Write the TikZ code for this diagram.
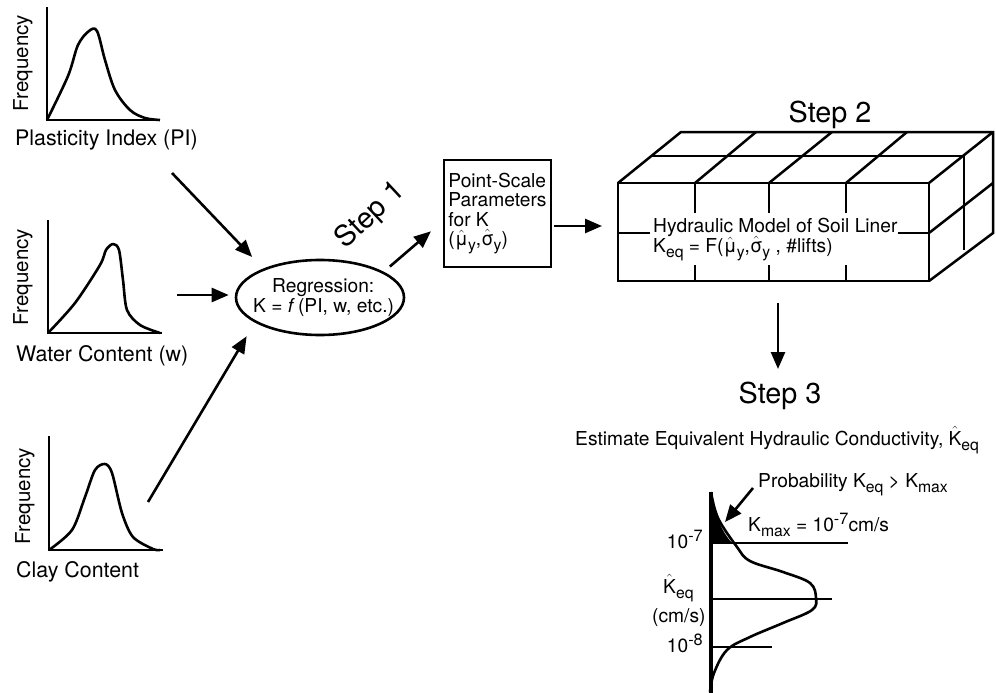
\documentclass[tikz,border=0pt]{standalone}
\usepackage{amsmath}
\usepackage{fix-cm}
\usepackage{fontspec}
\setmainfont{TeX Gyre Heros}
\usetikzlibrary{arrows.meta,shapes.geometric}
\newcommand{\hatsym}[1]{$\hat{\text{#1}}$}
\newcommand{\subsym}[1]{\raisebox{-5pt}{\scalebox{.82}{#1}}}
\newcommand{\supsym}[1]{\raisebox{7pt}{\scalebox{.85}{#1}}}
\tikzset{
    axisline/.style={line width=2.9pt},
    curveline/.style={line width=2.6pt, line join=round},
    cubeline/.style={line width=2.5pt},
    flowarrow/.style={line width=2.6pt, -{Stealth[inset=0pt,length=17pt,width=14pt]}},
    plaintxt/.style={anchor=base west, inner sep=0pt, font=\fontsize{19.2}{19.2}\selectfont},
    plotlabel/.style={anchor=base west, inner sep=0pt, font=\fontsize{21.4}{21.4}\selectfont},
    freqlabel/.style={anchor=base, rotate=90, inner sep=0pt, font=\fontsize{20.5}{20.5}\selectfont},
    steplabel/.style={anchor=base, inner sep=0pt, font=\fontsize{28.8}{28.8}\selectfont},
}
\begin{document}
\begin{tikzpicture}[x=1pt,y=-1pt]
    \useasboundingbox (0,0) rectangle (996,693);
    %plasticity plot
    \draw[axisline] (47,7) -- (47,120) -- (160,120);
    \draw[curveline] plot[smooth, tension=.55] coordinates {(47,120) (68,76) (78,45) (89,31) (97,31) (105,60) (115,90) (130,110) (145,118) (160,120)};
    \node[freqlabel] (freqpi) at (28,63) {Frequency};
    \node[plotlabel] (labelpi) at (15,145) {Plasticity Index (PI)};
    %water content plot
    \draw[axisline] (48,220) -- (48,333) -- (162,333);
    \draw[curveline] plot[smooth, tension=.5] coordinates {(48,333) (75,303) (100,265) (106,250) (113,244) (119,250) (123,280) (127,310) (140,325) (160,333)};
    \node[freqlabel] (freqw) at (28,277) {Frequency};
    \node[plotlabel] (labelw) at (16,361) {Water Content (w)};
    %clay plot
    \draw[axisline] (49,436) -- (49,550) -- (163,550);
    \draw[curveline] plot[smooth, tension=.5] coordinates {(49,550) (72,530) (85,497) (95,470) (105,464) (112,473) (122,513) (133,537) (153,549) (160,550)};
    \node[freqlabel] (freqc) at (30,496) {Frequency};
    \node[plotlabel] (labelc) at (16,577) {Clay Content};
    %regression
    \node[draw, ellipse, line width=2.6pt, minimum width=168pt, minimum height=75pt, inner sep=0pt] (reg) at (320,297.5) {};
    \node[plaintxt] (regone) at (272,292) {Regression:};
    \node[plaintxt] (regtwo) at (253,312) {K = \textit{f}\,(PI, w, etc.)};
    \coordinate (tailpi) at (172,173);
    \coordinate (tailw) at (177,295);
    \coordinate (tailc) at (148,502);
    \draw[flowarrow, shorten >=16pt] (tailpi) -- (reg.153);
    \draw[flowarrow, shorten >=6pt] (tailw) -- (tailw -| reg.west);
    \draw[flowarrow, shorten >=16pt] (tailc) -- (reg.201.6);
    \node[steplabel, rotate=43] (stepone) at (376,221) {Step 1};
    %point-scale box
    \node[draw, line width=2.6pt, minimum width=107pt, minimum height=107pt, inner sep=0pt, align=left, font=\fontsize{19.2}{19.2}\selectfont] (params) at (497.5,213.5) {Point-Scale\\Parameters\\for K\\(\hatsym{μ}\subsym{y},\hatsym{σ}\subsym{y})};
    \draw[flowarrow, shorten <=8pt, shorten >=15.5pt] (reg.22.3) -- (params.188);
    %cube
    \draw[cubeline] (618,183) rectangle (929,281);
    \draw[cubeline] (618,183) -- (681,132) -- (993,132) -- (993,233) -- (929,281);
    \draw[cubeline] (929,183) -- (993,132);
    \draw[cubeline] (651,156) -- (964,156) -- (964,250);
    \draw[cubeline] (929,233) -- (993,183);
    \draw[cubeline] (695,183) -- (756,132) (769,183) -- (832,132) (846,183) -- (907,132);
    \draw[cubeline] (695,183) -- (695,213) (769,183) -- (769,213) (846,183) -- (846,213);
    \draw[cubeline] (695,265) -- (695,281) (769,265) -- (769,281) (846,265) -- (846,281);
    \draw[cubeline] (618,233) -- (650,233) (898,233) -- (929,233);
    \node[steplabel] (steptwo) at (830,122) {Step 2};
    \node[plaintxt] (linerone) at (653,232) {Hydraulic Model of Soil Liner};
    \node[plaintxt] (linertwo) at (653,252) {K\subsym{eq} = F(\hatsym{μ}\subsym{y},\hatsym{σ}\subsym{y} , \#lifts)};
    \coordinate (cubein) at (602,226);
    \coordinate (boxout) at (554,226);
    \draw[flowarrow] (boxout) -- (cubein);
    %step 3
    \coordinate (cubeout) at (778,303);
    \coordinate (stepin) at (778,369);
    \draw[flowarrow] (cubeout) -- (stepin);
    \node[steplabel] (stepthree) at (780,403) {Step 3};
    \node[plaintxt] (estimate) at (575,445) {Estimate Equivalent Hydraulic Conductivity, \hatsym{K}\subsym{eq}};
    %conductivity plot
    \fill[black] (711,492) .. controls (716,518) and (722,532) .. (732,543) -- (711,543) -- cycle;
    \draw[line width=3.2pt] (711,492) -- (711,693);
    \draw[axisline] (711,543) -- (848,543);
    \draw[axisline] (711,599) -- (832,599);
    \draw[axisline] (711,647) -- (772,647);
    \draw[curveline] plot[smooth, tension=.6] coordinates {(711,492) (718,518) (737,547) (750,561) (783,572) (810,583) (816,598) (812,610) (783,623) (750,637) (727,650) (714,673) (710,692)};
    \node[plaintxt, anchor=base east] (tentop) at (703,548) {10\supsym{-7}};
    \node[plaintxt, anchor=base east] (tenlow) at (703,652) {10\supsym{-8}};
    \node[plaintxt] (keq) at (663,593) {\hatsym{K}\subsym{eq}};
    \node[plaintxt] (cms) at (652,622) {(cm/s)};
    \node[plaintxt] (prob) at (758,487) {Probability K\subsym{eq} > K\subsym{max}};
    \node[plaintxt] (kmax) at (748,531) {K\subsym{max} = 10\supsym{-7}cm/s};
    \coordinate (probtail) at (753,488);
    \coordinate (probtip) at (725,522);
    \draw[flowarrow] (probtail) -- (probtip);
\end{tikzpicture}
\end{document}
